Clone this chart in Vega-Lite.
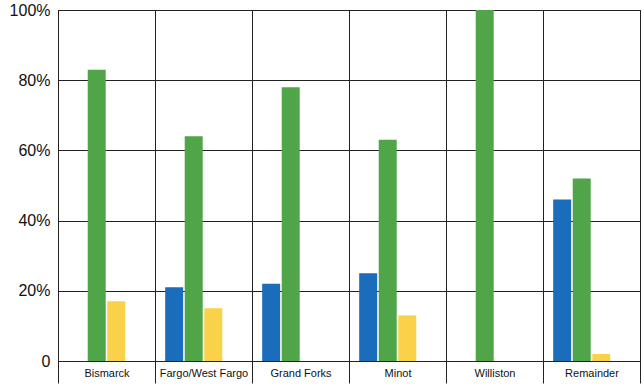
{
  "$schema": "https://vega.github.io/schema/vega-lite/v6.json",
  "width": 582,
  "height": 351,
  "autosize": "none",
  "padding": {"left": 58, "top": 10, "right": 4, "bottom": 25},
  "background": "white",
  "data": {
    "values": [
      {"city": "Bismarck", "series": "A", "pct": 0},
      {"city": "Bismarck", "series": "B", "pct": 83},
      {"city": "Bismarck", "series": "C", "pct": 17},
      {"city": "Fargo/West Fargo", "series": "A", "pct": 21},
      {"city": "Fargo/West Fargo", "series": "B", "pct": 64},
      {"city": "Fargo/West Fargo", "series": "C", "pct": 15},
      {"city": "Grand Forks", "series": "A", "pct": 22},
      {"city": "Grand Forks", "series": "B", "pct": 78},
      {"city": "Grand Forks", "series": "C", "pct": 0},
      {"city": "Minot", "series": "A", "pct": 25},
      {"city": "Minot", "series": "B", "pct": 63},
      {"city": "Minot", "series": "C", "pct": 13},
      {"city": "Williston", "series": "A", "pct": 0},
      {"city": "Williston", "series": "B", "pct": 100},
      {"city": "Williston", "series": "C", "pct": 0},
      {"city": "Remainder", "series": "A", "pct": 46},
      {"city": "Remainder", "series": "B", "pct": 52},
      {"city": "Remainder", "series": "C", "pct": 2}
    ]
  },
  "mark": {"type": "bar"},
  "encoding": {
    "x": {
      "field": "city",
      "type": "nominal",
      "sort": null,
      "scale": {"paddingInner": 0, "paddingOuter": 0},
      "axis": {
        "title": null,
        "labelAngle": 0,
        "labelFont": "Liberation Sans",
        "labelFontSize": 11,
        "labelColor": "#111",
        "tickBand": "extent",
        "tickSize": 22,
        "tickColor": "#222",
        "tickWidth": 1,
        "labelPadding": -16,
        "grid": true,
        "gridColor": "#222",
        "gridOpacity": 1,
        "gridWidth": 1,
        "domainColor": "#222"
      }
    },
    "xOffset": {
      "field": "series",
      "type": "nominal",
      "scale": {"domain": ["A", "B", "C", "D"], "paddingInner": 0.08, "paddingOuter": 0.52}
    },
    "y": {
      "field": "pct",
      "type": "quantitative",
      "scale": {"domain": [0, 100]},
      "axis": {
        "title": null,
        "values": [0, 20, 40, 60, 80, 100],
        "labelExpr": "datum.value == 0 ? '0' : datum.value + '%'",
        "labelFont": "Liberation Sans",
        "labelFontSize": 16,
        "labelColor": "#111",
        "labelPadding": 8,
        "ticks": false,
        "grid": true,
        "gridColor": "#222",
        "gridOpacity": 1,
        "gridWidth": 1,
        "domainColor": "#222"
      }
    },
    "color": {
      "field": "series",
      "type": "nominal",
      "scale": {"domain": ["A", "B", "C"], "range": ["#1b6dbb", "#50a548", "#fad24a"]},
      "legend": null
    }
  },
  "config": {
    "view": {"stroke": "#222", "strokeWidth": 1}
  }
}
